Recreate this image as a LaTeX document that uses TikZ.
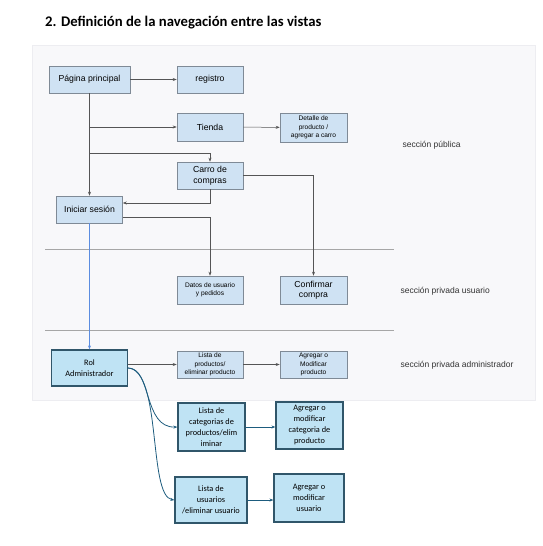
\documentclass[tikz,border=0pt]{standalone}
\usepackage{fontspec}
\setsansfont{Liberation Sans}
\newfontfamily\calfont{Carlito}
\usetikzlibrary{arrows.meta}
\definecolor{panelfill}{HTML}{F8F8FA}
\definecolor{panelline}{HTML}{EDEDF1}
\definecolor{boxfill}{HTML}{CFE2F3}
\definecolor{boxline}{HTML}{7F8A96}
\definecolor{flowgray}{HTML}{555555}
\definecolor{sepgray}{HTML}{A6A6A6}
\definecolor{admfill}{HTML}{BFE3F4}
\definecolor{admline}{HTML}{30566A}
\definecolor{admarrow}{HTML}{1D5C7E}
\definecolor{loginblue}{HTML}{5B8DE0}
\definecolor{labelgray}{HTML}{333333}
\begin{document}
\begin{tikzpicture}[x=1pt,y=-1pt,>={Stealth[length=4pt,width=3pt]},
  box/.style={draw=boxline,fill=boxfill,line width=0.6pt,inner sep=1pt,align=center,
    font=\sffamily\fontsize{8.7}{10.5}\selectfont},
  small/.style={font=\sffamily\fontsize{6.6}{8.5}\selectfont},
  admbox/.style={draw=admline,fill=admfill,line width=1.2pt,inner sep=1pt,align=center,
    font=\calfont\fontsize{8.3}{11}\selectfont},
  flow/.style={->,draw=flowgray,line width=0.5pt},
  admflow/.style={->,draw=admarrow,line width=0.8pt},
  section/.style={anchor=west,text=labelgray,font=\sffamily\fontsize{8.5}{10}\selectfont}]
  \useasboundingbox (0,0) rectangle (542,546);
  % title and panel
  \node[anchor=base west,inner sep=0pt,font=\calfont\bfseries\fontsize{14.7}{16}\selectfont] (title) at (45,26) {2. Definición de la navegación entre las vistas};
  \fill[panelfill,draw=panelline] (32,45) rectangle (535,400);
  \draw[sepgray,line width=0.8pt] (45,249) -- (394,249);
  \draw[sepgray,line width=0.8pt] (45,330) -- (394,330);
  % public views
  \node[box,minimum width=81,minimum height=27] (pagina) at (89.5,79.5) {Página principal};
  \node[box,minimum width=66,minimum height=27] (registro) at (210,79.5) {registro};
  \node[box,minimum width=66,minimum height=28] (tienda) at (210,127) {Tienda};
  \node[box,small,minimum width=67,minimum height=29] (detalle) at (313.5,127.5) {Detalle de\\producto /\\agregar a carro};
  \node[box,minimum width=66,minimum height=27] (carro) at (210,175.5) {Carro de\\compras};
  \node[box,minimum width=66,minimum height=27] (sesion) at (89.5,209.5) {Iniciar sesión};
  \coordinate (split) at (89.5,153);
  % private user views
  \node[box,small,minimum width=66,minimum height=28] (datos) at (210,290) {Datos de usuario\\y pedidos};
  \node[box,minimum width=67,minimum height=28] (confirmar) at (313.5,290) {Confirmar\\compra};
  % admin views
  \node[admbox,minimum width=76,minimum height=36] (rol) at (89.5,368) {Rol\\Administrador};
  \node[box,small,minimum width=66,minimum height=27] (listaprod) at (210,364.5) {Lista de\\productos/\\eliminar producto};
  \node[box,small,minimum width=67,minimum height=27] (agregarprod) at (313.5,364.5) {Agregar o\\Modificar\\producto};
  \node[admbox,minimum width=67,minimum height=48] (listacat) at (211.5,427) {Lista de\\categorias de\\productos/elim\\iminar};
  \node[admbox,minimum width=67,minimum height=47] (agregarcat) at (309.5,425.5) {Agregar o\\modificar\\categoria de\\producto};
  \node[admbox,minimum width=72,minimum height=46] (listausu) at (211,500) {Lista de\\usuarios\\/eliminar usuario};
  \node[admbox,minimum width=70,minimum height=48] (agregarusu) at (309,498) {Agregar o\\modificar\\usuario};
  % section labels
  \node[section] (secpub) at (399,145) {sección pública};
  \node[section] (secusu) at (397,291) {sección privada usuario};
  \node[section] (secadm) at (397,365) {sección privada administrador};
  % navigation
  \draw[flow] (pagina) -- (registro);
  \draw[flow] (pagina) -- (sesion);
  \draw[flow] (pagina.south |- tienda.west) -- (tienda);
  \draw[flow] (tienda) -- (detalle);
  \draw[flow] (split) -| (carro.north);
  \draw[flow] (carro.south) |- ([yshift=6.5pt]sesion.east);
  \draw[flow] (carro.east) -| (confirmar.north);
  \draw[flow] ([yshift=-7.5pt]sesion.east) -| (datos.north);
  \draw[flow,draw=loginblue,line width=0.8pt] (sesion) -- (rol);
  \draw[flow] (rol.east |- listaprod.west) -- (listaprod);
  \draw[flow] (listaprod) -- (agregarprod);
  \draw[admflow] (rol.east) .. controls (152,368) and (143,428) .. (listacat.west);
  \draw[admflow] (rol.east) .. controls (162,370) and (148,496) .. (listausu.west);
  \draw[admflow] (listacat.east) -- (listacat.east -| agregarcat.west);
  \draw[admflow] (listausu.east) -- (listausu.east -| agregarusu.west);
\end{tikzpicture}
\end{document}
